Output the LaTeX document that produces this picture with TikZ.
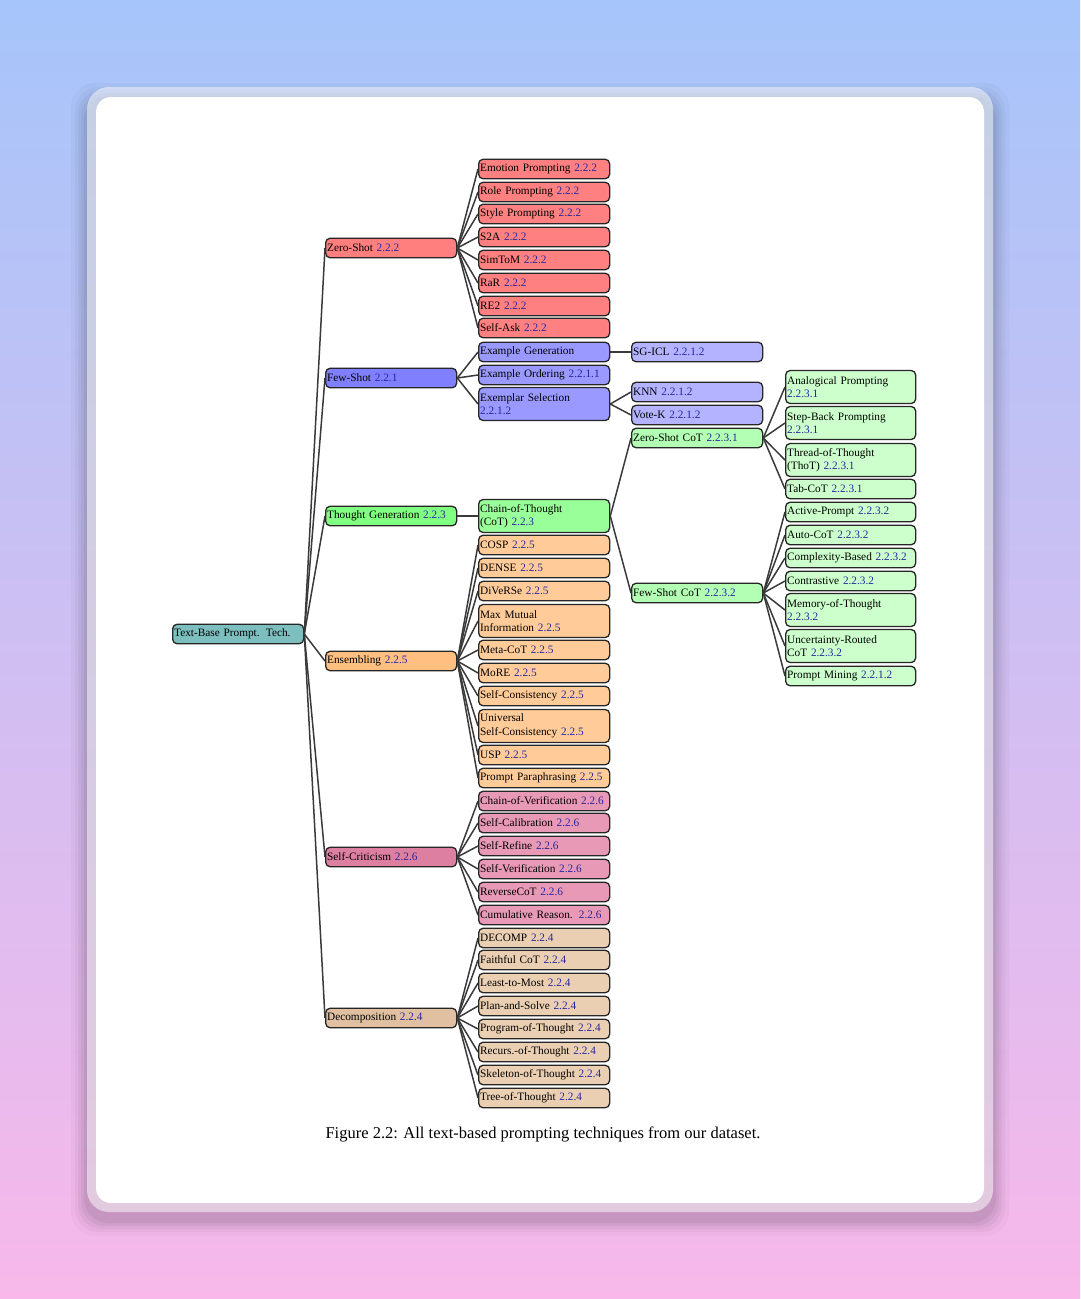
\documentclass[tikz,border=0pt]{standalone}
\usepackage{fontspec}
\setmainfont{Liberation Serif}
\usetikzlibrary{positioning}
\definecolor{bgtop}{RGB}{166,197,250}
\definecolor{bgbot}{RGB}{248,184,234}
\definecolor{refc}{RGB}{38,38,160}
\definecolor{edgec}{RGB}{58,58,58}
\definecolor{cRoot}{RGB}{125,191,191}
\definecolor{cZa}{RGB}{255,127,127}
\definecolor{cZb}{RGB}{255,128,128}
\definecolor{cFa}{RGB}{128,128,255}
\definecolor{cFb}{RGB}{153,153,255}
\definecolor{cFc}{RGB}{179,179,255}
\definecolor{cTa}{RGB}{128,255,128}
\definecolor{cTb}{RGB}{153,255,153}
\definecolor{cTc}{RGB}{179,255,179}
\definecolor{cTd}{RGB}{204,255,204}
\definecolor{cEa}{RGB}{255,191,128}
\definecolor{cEb}{RGB}{255,204,153}
\definecolor{cSa}{RGB}{221,127,160}
\definecolor{cSb}{RGB}{232,153,181}
\definecolor{cDa}{RGB}{224,192,160}
\definecolor{cDb}{RGB}{235,207,179}
\newcommand\rf[1]{\textcolor{refc}{#1}}
\tikzset{
  tbox/.style={draw=black!85, line width=1.3pt, rounded corners=4.5pt, anchor=west,
    text width=128pt, minimum height=19.5pt, inner xsep=1.5pt, inner ysep=1pt,
    align=left, font=\fontsize{11.3}{13.5}\selectfont},
  twol/.style={minimum height=33pt},
  edge/.style={draw=edgec, line width=1.5pt},
}
\begin{document}
\begin{tikzpicture}[x=1pt,y=-1pt]
\useasboundingbox (0,0) rectangle (1080,1299);
\shade[top color=bgtop, bottom color=bgbot] (0,0) rectangle (1080,1299);
% card shadow
\foreach \s/\o in {16/0.025,12/0.03,9/0.035,6/0.045,3/0.05}{
  \fill[black,opacity=\o,rounded corners=24pt] (87-\s,87-\s+12) rectangle (993+\s,1212+\s+8);
}
\fill[white,opacity=0.5,rounded corners=22pt] (87,87) rectangle (993,1212);
\fill[white,rounded corners=15pt] (96,97) rectangle (984,1203);

% columns: 172, 325, 478, 631, 785
\node[tbox,fill=cRoot] (root) at (172,634) {Text-Base Prompt.\hspace{0.55em}Tech.};

% level 2
\node[tbox,fill=cZa] (zs) at (325,248) {Zero-Shot \rf{2.2.2}};
\node[tbox,fill=cFa] (fs) at (325,378) {Few-Shot \rf{2.2.1}};
\node[tbox,fill=cTa] (tg) at (325,516) {Thought Generation \rf{2.2.3}};
\node[tbox,fill=cEa] (en) at (325,661) {Ensembling \rf{2.2.5}};
\node[tbox,fill=cSa] (sc) at (325,857) {Self-Criticism \rf{2.2.6}};
\node[tbox,fill=cDa] (de) at (325,1018) {Decomposition \rf{2.2.4}};
\foreach \c in {zs,fs,tg,en,sc,de} \draw[edge] (root.east) -- (\c.west);

% zero-shot children
\node[tbox,fill=cZb] (z1) at (478,169) {Emotion Prompting \rf{2.2.2}};
\node[tbox,fill=cZb] (z2) at (478,192) {Role Prompting \rf{2.2.2}};
\node[tbox,fill=cZb] (z3) at (478,214) {Style Prompting \rf{2.2.2}};
\node[tbox,fill=cZb] (z4) at (478,237) {S2A \rf{2.2.2}};
\node[tbox,fill=cZb] (z5) at (478,260) {SimToM \rf{2.2.2}};
\node[tbox,fill=cZb] (z6) at (478,283) {RaR \rf{2.2.2}};
\node[tbox,fill=cZb] (z7) at (478,306) {RE2 \rf{2.2.2}};
\node[tbox,fill=cZb] (z8) at (478,328) {Self-Ask \rf{2.2.2}};
\foreach \c in {z1,z2,z3,z4,z5,z6,z7,z8} \draw[edge] (zs.east) -- (\c.west);

% few-shot children
\node[tbox,fill=cFb] (f1) at (478,352) {Example Generation};
\node[tbox,fill=cFb] (f2) at (478,375) {Example Ordering \rf{2.2.1.1}};
\node[tbox,fill=cFb,twol] (f3) at (478,404) {Exemplar Selection\\\rf{2.2.1.2}};
\foreach \c in {f1,f2,f3} \draw[edge] (fs.east) -- (\c.west);
\node[tbox,fill=cFc] (g1) at (631,352) {SG-ICL \rf{2.2.1.2}};
\draw[edge] (f1.east) -- (g1.west);
\node[tbox,fill=cFc] (g2) at (631,392) {KNN \rf{2.2.1.2}};
\node[tbox,fill=cFc] (g3) at (631,415) {Vote-K \rf{2.2.1.2}};
\foreach \c in {g2,g3} \draw[edge] (f3.east) -- (\c.west);

% thought generation
\node[tbox,fill=cTb,twol] (cot) at (478,516) {Chain-of-Thought\\(CoT) \rf{2.2.3}};
\draw[edge] (tg.east) -- (cot.west);
\node[tbox,fill=cTc] (zc) at (631,438) {Zero-Shot CoT \rf{2.2.3.1}};
\node[tbox,fill=cTc] (fc) at (631,593) {Few-Shot CoT \rf{2.2.3.2}};
\foreach \c in {zc,fc} \draw[edge] (cot.east) -- (\c.west);
\node[tbox,fill=cTd,twol,text width=127pt] (t1) at (785,387) {Analogical Prompting\\\rf{2.2.3.1}};
\node[tbox,fill=cTd,twol,text width=127pt] (t2) at (785,423) {Step-Back Prompting\\\rf{2.2.3.1}};
\node[tbox,fill=cTd,twol,text width=127pt] (t3) at (785,460) {Thread-of-Thought\\(ThoT) \rf{2.2.3.1}};
\node[tbox,fill=cTd,text width=127pt] (t4) at (785,489) {Tab-CoT \rf{2.2.3.1}};
\foreach \c in {t1,t2,t3,t4} \draw[edge] (zc.east) -- (\c.west);
\node[tbox,fill=cTd,text width=127pt] (u1) at (785,512) {Active-Prompt \rf{2.2.3.2}};
\node[tbox,fill=cTd,text width=127pt] (u2) at (785,535) {Auto-CoT \rf{2.2.3.2}};
\node[tbox,fill=cTd,text width=127pt] (u3) at (785,558) {Complexity-Based \rf{2.2.3.2}};
\node[tbox,fill=cTd,text width=127pt] (u4) at (785,581) {Contrastive \rf{2.2.3.2}};
\node[tbox,fill=cTd,twol,text width=127pt] (u5) at (785,610) {Memory-of-Thought\\\rf{2.2.3.2}};
\node[tbox,fill=cTd,twol,text width=127pt] (u6) at (785,646) {Uncertainty-Routed\\CoT \rf{2.2.3.2}};
\node[tbox,fill=cTd,text width=127pt] (u7) at (785,676) {Prompt Mining \rf{2.2.1.2}};
\foreach \c in {u1,u2,u3,u4,u5,u6,u7} \draw[edge] (fc.east) -- (\c.west);

% ensembling
\node[tbox,fill=cEb] (e1) at (478,545) {COSP \rf{2.2.5}};
\node[tbox,fill=cEb] (e2) at (478,568) {DENSE \rf{2.2.5}};
\node[tbox,fill=cEb] (e3) at (478,591) {DiVeRSe \rf{2.2.5}};
\node[tbox,fill=cEb,twol] (e4) at (478,621) {Max Mutual\\Information \rf{2.2.5}};
\node[tbox,fill=cEb] (e5) at (478,650) {Meta-CoT \rf{2.2.5}};
\node[tbox,fill=cEb] (e6) at (478,673) {MoRE \rf{2.2.5}};
\node[tbox,fill=cEb] (e7) at (478,696) {Self-Consistency \rf{2.2.5}};
\node[tbox,fill=cEb,twol] (e8) at (478,726) {Universal\\Self-Consistency \rf{2.2.5}};
\node[tbox,fill=cEb] (e9) at (478,755) {USP \rf{2.2.5}};
\node[tbox,fill=cEb] (e10) at (478,778) {Prompt Paraphrasing \rf{2.2.5}};
\foreach \c in {e1,e2,e3,e4,e5,e6,e7,e8,e9,e10} \draw[edge] (en.east) -- (\c.west);

% self-criticism
\node[tbox,fill=cSb] (s1) at (478,801) {Chain-of-Verification \rf{2.2.6}};
\node[tbox,fill=cSb] (s2) at (478,823) {Self-Calibration \rf{2.2.6}};
\node[tbox,fill=cSb] (s3) at (478,846) {Self-Refine \rf{2.2.6}};
\node[tbox,fill=cSb] (s4) at (478,869) {Self-Verification \rf{2.2.6}};
\node[tbox,fill=cSb] (s5) at (478,892) {ReverseCoT \rf{2.2.6}};
\node[tbox,fill=cSb] (s6) at (478,915) {Cumulative Reason.\hspace{0.55em}\rf{2.2.6}};
\foreach \c in {s1,s2,s3,s4,s5,s6} \draw[edge] (sc.east) -- (\c.west);

% decomposition
\node[tbox,fill=cDb] (d1) at (478,938) {DECOMP \rf{2.2.4}};
\node[tbox,fill=cDb] (d2) at (478,960) {Faithful CoT \rf{2.2.4}};
\node[tbox,fill=cDb] (d3) at (478,983) {Least-to-Most \rf{2.2.4}};
\node[tbox,fill=cDb] (d4) at (478,1006) {Plan-and-Solve \rf{2.2.4}};
\node[tbox,fill=cDb] (d5) at (478,1029) {Program-of-Thought \rf{2.2.4}};
\node[tbox,fill=cDb] (d6) at (478,1052) {Recurs.-of-Thought \rf{2.2.4}};
\node[tbox,fill=cDb] (d7) at (478,1075) {Skeleton-of-Thought \rf{2.2.4}};
\node[tbox,fill=cDb] (d8) at (478,1098) {Tree-of-Thought \rf{2.2.4}};
\foreach \c in {d1,d2,d3,d4,d5,d6,d7,d8} \draw[edge] (de.east) -- (\c.west);

\node[font=\fontsize{16.5}{19}\selectfont, inner sep=0pt] (cap) at (543,1134) {Figure 2.2: All text-based prompting techniques from our dataset.};
\end{tikzpicture}
\end{document}
